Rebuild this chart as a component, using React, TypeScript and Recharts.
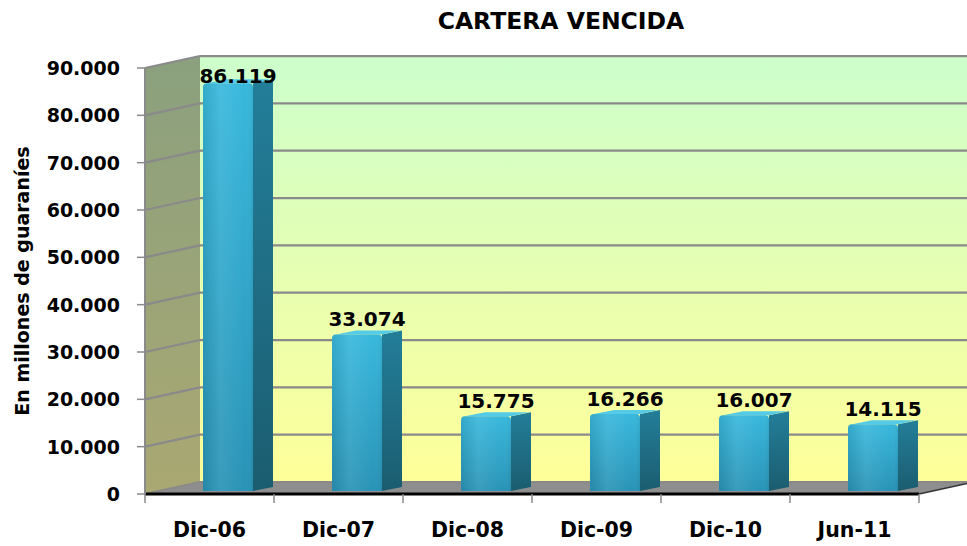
import React from 'react';
import * as R from 'recharts';
const { BarChart, Bar, XAxis, YAxis, LabelList } = R as any;

const categories = ['Dic-06', 'Dic-07', 'Dic-08', 'Dic-09', 'Dic-10', 'Jun-11'];
const values = [86119, 33074, 15775, 16266, 16007, 14115];
const yTicks = [0, 10000, 20000, 30000, 40000, 50000, 60000, 70000, 80000, 90000];
const yMax = 90000;
const title = 'CARTERA VENCIDA';
const yLabel = 'En millones de guaraníes';

const data = categories.map((c, i) => ({ name: c, value: values[i] }));

const FONT = '"DejaVu Sans", sans-serif';
const DX = 55; // 3D depth offset of the back wall
const DY = -12;

const fmt = (n: number) => String(n).replace(/\B(?=(\d{3})+(?!\d))/g, '.');

function usePlot() {
  const anyR = R as any;
  if (anyR.usePlotArea) {
    return anyR.usePlotArea();
  }
  const off = anyR.useOffset ? anyR.useOffset() : null;
  const w = anyR.useChartWidth ? anyR.useChartWidth() : null;
  const h = anyR.useChartHeight ? anyR.useChartHeight() : null;
  if (!off || w == null || h == null) return null;
  return { x: off.left, y: off.top, width: w - off.left - off.right, height: h - off.top - off.bottom };
}

function Decor() {
  const plot = usePlot();
  const anyR = R as any;
  const ysRaw = anyR.useYAxisScale ? anyR.useYAxisScale() : null;
  if (!plot) return null;
  const L = plot.x, T = plot.y, W = plot.width, H = plot.height;
  const B = T + H, Rt = L + W;
  const ys = typeof ysRaw === 'function' ? (v: number) => ysRaw(v) : (v: number) => B - (v / yMax) * H;
  return (
    <g>
      {/* back wall */}
      <rect x={L + DX} y={T + DY} width={W + 10} height={H} fill="url(#wallGrad)" />
      {/* left wall */}
      <polygon
        points={`${L},${T} ${L + DX},${T + DY} ${L + DX},${B + DY} ${L},${B}`}
        fill="url(#leftGrad)"
      />
      {/* floor */}
      <polygon
        points={`${L},${B} ${L + DX},${B + DY} ${Rt + DX},${B + DY} ${Rt},${B}`}
        fill="#8E8E8E"
      />
      {yTicks.map((t) => {
        const y = ys(t);
        return (
          <g key={t}>
            <line x1={L} y1={y} x2={L + DX} y2={y + DY} stroke="#8A8A8A" strokeWidth={2.25} />
            <line x1={L + DX} y1={y + DY} x2={Rt + DX} y2={y + DY} stroke="#8A8A8A" strokeWidth={2.25} />
          </g>
        );
      })}
      <line x1={Rt} y1={B} x2={Rt + DX} y2={B + DY} stroke="#333" strokeWidth={1.5} />
    </g>
  );
}

function Bar3D(props: any) {
  const { x, y, width, height } = props;
  if (height == null || height <= 0) return null;
  const fx = x + 18;
  const top = y - 3;
  const bot = y + height - 3;
  const w = width;
  const d = 20, e = 4, r = 4;
  return (
    <g>
      <path d={`M${fx + w},${top} L${fx + w + d},${top - e} L${fx + w + d},${bot - e} L${fx + w},${bot} Z`} fill="url(#sideGrad)" />
      <path d={`M${fx + r},${top} L${fx + d + r},${top - e} L${fx + w + d - 2},${top - e} L${fx + w},${top} Z`} fill="#55CBE8" />
      <path
        d={`M${fx},${bot} L${fx},${top + r} Q${fx},${top} ${fx + r},${top} L${fx + w - r},${top} Q${fx + w},${top} ${fx + w},${top + r} L${fx + w},${bot} Z`}
        fill="url(#frontGrad)"
      />
      <path
        d={`M${fx},${bot} L${fx},${top + r} Q${fx},${top} ${fx + r},${top} L${fx + w - r},${top} Q${fx + w},${top} ${fx + w},${top + r} L${fx + w},${bot} Z`}
        fill="url(#frontShade)"
      />
    </g>
  );
}

function ValueLabel(props: any) {
  const { x, y, width, value } = props;
  const cx = x + 18 + (width + 20) / 2;
  const base = Math.max(y - 11, 83);
  return (
    <text x={cx} y={base} textAnchor="middle" fontFamily={FONT} fontWeight="bold" fontSize={20} fill="#000">
      {fmt(value)}
    </text>
  );
}

function YTick(props: any) {
  const { x, y, payload } = props;
  return (
    <text x={x} y={y} dy="0.36em" textAnchor="end" fontFamily={FONT} fontWeight="bold" fontSize={19} fill="#000">
      {fmt(payload.value)}
    </text>
  );
}

function XTick(props: any) {
  const { x, y, payload, index, visibleTicksCount } = props;
  const off = payload && payload.offset != null ? payload.offset : 64.5;
  const axisY = y - 8;
  const last = index === (visibleTicksCount ?? categories.length) - 1;
  return (
    <g>
      <line x1={x - off} y1={axisY} x2={x - off} y2={axisY + 9} stroke="#8A8A8A" strokeWidth={1.5} />
      {last && <line x1={x + off} y1={axisY} x2={x + off} y2={axisY + 9} stroke="#8A8A8A" strokeWidth={1.5} />}
      <text x={x} y={axisY + 43} textAnchor="middle" fontFamily={FONT} fontWeight="bold" fontSize={20.5} fill="#000">
        {payload.value}
      </text>
    </g>
  );
}

export default function App() {
  return (
    <div style={{ position: 'absolute', left: 0, top: 0, width: 967, height: 546, background: '#fff' }}>
      <svg width={0} height={0} style={{ position: 'absolute' }}>
        <defs>
          <linearGradient id="wallGrad" x1="0" y1="0" x2="0" y2="1">
            <stop offset="0%" stopColor="#CCFFCC" />
            <stop offset="100%" stopColor="#FFFF99" />
          </linearGradient>
          <linearGradient id="leftGrad" x1="0" y1="0" x2="0" y2="1">
            <stop offset="0%" stopColor="#8AA07E" />
            <stop offset="100%" stopColor="#AAA872" />
          </linearGradient>
          <linearGradient id="frontGrad" x1="0" y1="0" x2="0" y2="1">
            <stop offset="0%" stopColor="#38B8DC" />
            <stop offset="100%" stopColor="#2993B6" />
          </linearGradient>
          <linearGradient id="frontShade" x1="0" y1="0" x2="1" y2="0">
            <stop offset="0%" stopColor="#000" stopOpacity={0.08} />
            <stop offset="35%" stopColor="#fff" stopOpacity={0.08} />
            <stop offset="85%" stopColor="#fff" stopOpacity={0} />
            <stop offset="100%" stopColor="#000" stopOpacity={0.06} />
          </linearGradient>
          <linearGradient id="sideGrad" x1="0" y1="0" x2="0" y2="1">
            <stop offset="0%" stopColor="#237E99" />
            <stop offset="100%" stopColor="#1B5D70" />
          </linearGradient>
        </defs>
      </svg>
      <BarChart
        width={967}
        height={546}
        data={data}
        margin={{ top: 68, right: 48, bottom: 0, left: 0 }}
        barSize={50}
      >
        <Decor />
        <XAxis
          dataKey="name"
          height={52}
          axisLine={{ stroke: '#000', strokeWidth: 3 }}
          tickLine={false}
          tickSize={8}
          tickMargin={0}
          interval={0}
          tick={<XTick />}
        />
        <YAxis
          width={145}
          domain={[0, yMax]}
          ticks={yTicks}
          interval={0}
          axisLine={{ stroke: '#8A8A8A', strokeWidth: 2 }}
          tickLine={{ stroke: '#8A8A8A', strokeWidth: 1.5 }}
          tickSize={8}
          tickMargin={17}
          tick={<YTick />}
        />
        <Bar dataKey="value" shape={<Bar3D />} isAnimationActive={false}>
          <LabelList dataKey="value" content={<ValueLabel />} />
        </Bar>
      </BarChart>
      <svg width={967} height={546} style={{ position: 'absolute', left: 0, top: 0, pointerEvents: 'none' }}>
        <text x={561} y={29} textAnchor="middle" fontFamily={FONT} fontWeight="bold" fontSize={23.5} fill="#000">
          {title}
        </text>
        <text
          x={0}
          y={0}
          transform="translate(29,281) rotate(-90)"
          textAnchor="middle"
          fontFamily={FONT}
          fontWeight="bold"
          fontSize={19}
          fill="#000"
        >
          {yLabel}
        </text>
      </svg>
    </div>
  );
}
